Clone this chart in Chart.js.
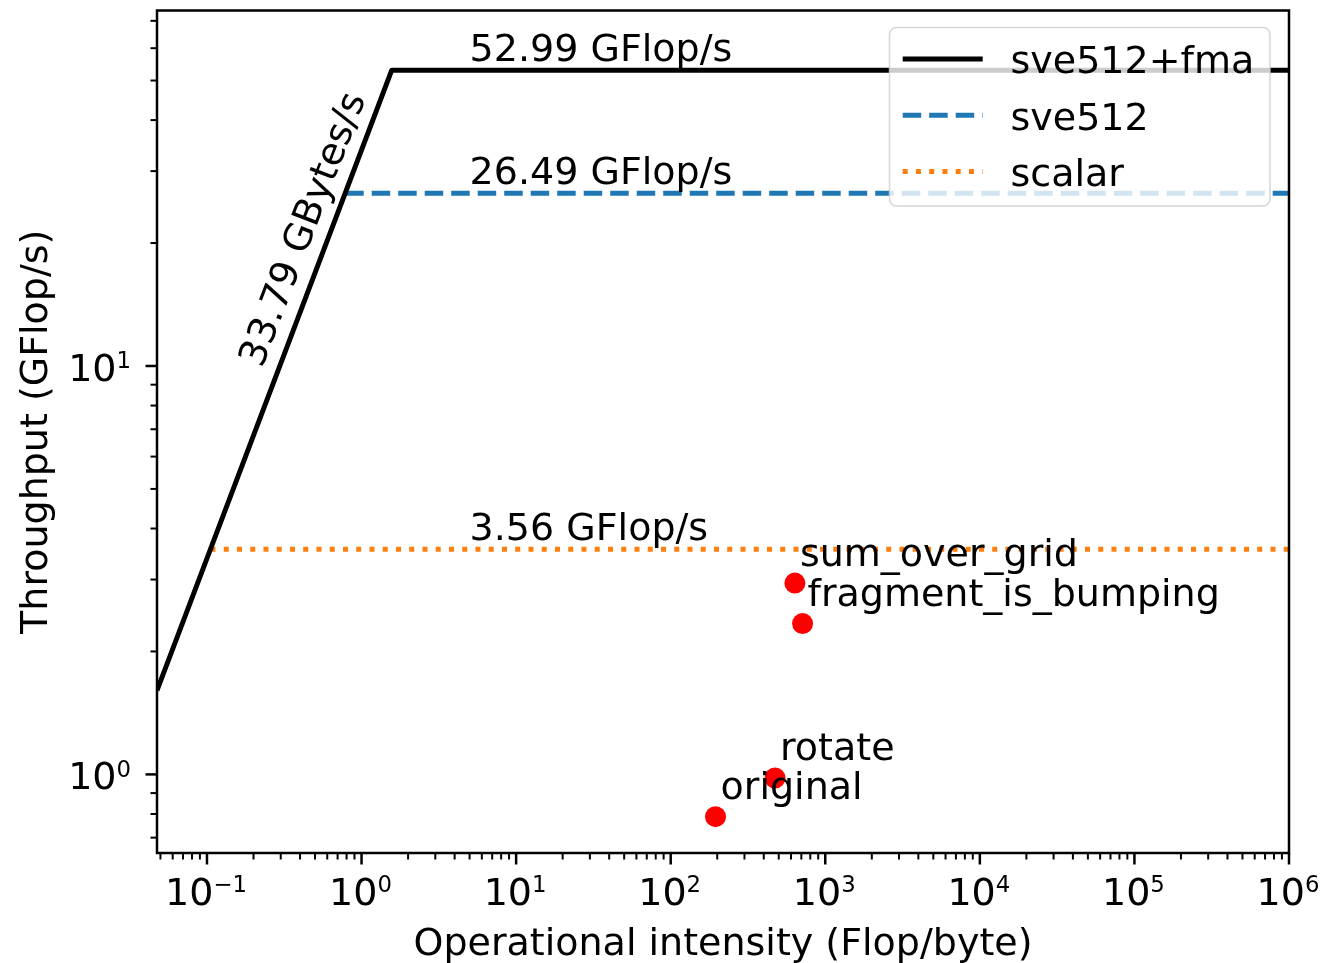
<!DOCTYPE html>
<html>
<head>
<meta charset="utf-8">
<script src="https://cdn.jsdelivr.net/npm/chart.js@4.4.0/dist/chart.umd.min.js"></script>
<style>
  html, body { margin: 0; padding: 0; background: #fff; }
  canvas { display: block; }
</style>
</head>
<body>
<canvas id="roofline" width="1327" height="963"></canvas>
<script>
// roofs
const roofNames = ['sve512+fma', 'sve512', 'scalar'];
const roofPeaks = [52.99, 26.49, 3.56];
const roofColors = ['#000000', '#1f77b4', '#ff7f0e'];
const roofDashes = [[], [18.5, 8], [5, 8.25]];
const bandwidth = 33.79;

// measured kernels
const kernelNames = ['sum_over_grid', 'fragment_is_bumping', 'rotate', 'original'];
const kernelIntensity = [636, 713, 473, 195];
const kernelThroughput = [2.94, 2.34, 0.98, 0.788];

// axes
const xMin = 0.0475, xMax = 1e6;
const yMin = 0.642, yMax = 74.2;
const xDecades = [-1, 0, 1, 2, 3, 4, 5, 6];
const yDecades = [0, 1];
const xTitle = 'Operational intensity (Flop/byte)';
const yTitle = 'Throughput (GFlop/s)';

const FAMILY = '"DejaVu Sans", sans-serif';
const FONT = '38px ' + FAMILY;
const SUP_FONT = '22.8px ' + FAMILY;

// the black roof carries the bandwidth slope, the others start at their knee
const roofDatasets = roofPeaks.map((peak, i) => {
  const knee = peak / bandwidth;
  const pts = [];
  if (i === 0) pts.push({ x: xMin, y: bandwidth * xMin });
  pts.push({ x: knee, y: peak }, { x: xMax, y: peak });
  return {
    label: roofNames[i],
    data: pts,
    showLine: true,
    borderColor: roofColors[i],
    borderWidth: 5,
    borderDash: roofDashes[i],
    borderJoinStyle: 'round',
    pointRadius: 0,
    order: 1 + i
  };
});

const kernelDataset = {
  label: 'kernels',
  data: kernelIntensity.map((x, i) => ({ x, y: kernelThroughput[i] })),
  showLine: false,
  pointRadius: 10.5,
  pointBackgroundColor: '#ff0000',
  pointBorderWidth: 0,
  order: 0
};

function supText(exp) {
  return exp < 0 ? '\u2212' + Math.abs(exp) : String(exp);
}

// "10^n" the way matplotlib sets it: base + raised smaller exponent
function drawPow(ctx, exp, x, baseline, align) {
  ctx.font = FONT;
  const wBase = ctx.measureText('10').width;
  ctx.font = SUP_FONT;
  const s = supText(exp);
  const wSup = ctx.measureText(s).width;
  const total = wBase + wSup;
  const x0 = align === 'center' ? x - total / 2 - 1 : x - total;
  ctx.textAlign = 'left';
  ctx.textBaseline = 'alphabetic';
  ctx.font = FONT;
  ctx.fillText('10', x0, baseline);
  ctx.font = SUP_FONT;
  ctx.fillText(s, x0 + wBase, baseline - 12.6);
}

const rooflineDecor = {
  id: 'rooflineDecor',
  afterDatasetsDraw(chart) {
    const ctx = chart.ctx;
    const xs = chart.scales.x, ys = chart.scales.y;
    const a = chart.chartArea;
    ctx.save();
    ctx.fillStyle = '#000';
    ctx.font = FONT;
    ctx.textAlign = 'left';
    ctx.textBaseline = 'alphabetic';

    // roof labels
    roofPeaks.forEach(p => {
      ctx.fillText(p.toFixed(2) + ' GFlop/s', xs.getPixelForValue(5), ys.getPixelForValue(p) - 9);
    });
    // kernel labels
    kernelNames.forEach((name, i) => {
      ctx.fillText(name,
        xs.getPixelForValue(kernelIntensity[i]) + 5,
        ys.getPixelForValue(kernelThroughput[i]) - 17.5);
    });
    // bandwidth label along the slope
    ctx.save();
    ctx.translate(xs.getPixelForValue(0.227), ys.getPixelForValue(9.85));
    ctx.rotate(-69 * Math.PI / 180);
    ctx.fillText(bandwidth.toFixed(2) + ' GBytes/s', 0, 0);
    ctx.restore();

    // spines
    ctx.strokeStyle = '#000';
    ctx.lineWidth = 2.5;
    ctx.strokeRect(a.left, a.top, a.right - a.left, a.bottom - a.top);

    // ticks
    for (let d = -2; d <= 6; d++) {
      for (let k = 1; k <= 9; k++) {
        const v = k * Math.pow(10, d);
        const major = k === 1;
        if (v >= xMin && v <= xMax * 1.0001) {
          const px = xs.getPixelForValue(v);
          ctx.lineWidth = major ? 2.5 : 2;
          ctx.beginPath();
          ctx.moveTo(px, a.bottom);
          ctx.lineTo(px, a.bottom + (major ? 11.5 : 6.5));
          ctx.stroke();
        }
        if (v >= yMin && v <= yMax) {
          const py = ys.getPixelForValue(v);
          ctx.lineWidth = major ? 2.5 : 2;
          ctx.beginPath();
          ctx.moveTo(a.left, py);
          ctx.lineTo(a.left - (major ? 11.5 : 6.5), py);
          ctx.stroke();
        }
      }
    }

    // tick labels
    xDecades.forEach(e => drawPow(ctx, e, xs.getPixelForValue(Math.pow(10, e)), a.bottom + 51.5, 'center'));
    yDecades.forEach(e => drawPow(ctx, e, a.left - 26, ys.getPixelForValue(Math.pow(10, e)) + 15, 'right'));

    // axis titles
    ctx.font = FONT;
    ctx.textAlign = 'center';
    ctx.textBaseline = 'alphabetic';
    ctx.fillText(xTitle, (a.left + a.right) / 2, 955);
    ctx.save();
    ctx.translate(47, (a.top + a.bottom) / 2);
    ctx.rotate(-Math.PI / 2);
    ctx.fillText(yTitle, 0, 0);
    ctx.restore();

    // legend
    const lx = 889.5, ly = 27.5, lw = 380.5, lh = 178.5, r = 7;
    ctx.beginPath();
    ctx.roundRect(lx, ly, lw, lh, r);
    ctx.fillStyle = 'rgba(255,255,255,0.8)';
    ctx.fill();
    ctx.strokeStyle = 'rgba(204,204,204,0.8)';
    ctx.lineWidth = 1.5;
    ctx.stroke();
    roofNames.forEach((name, i) => {
      const y = 59 + i * 56.2;
      ctx.strokeStyle = roofColors[i];
      ctx.lineWidth = 5;
      ctx.setLineDash(roofDashes[i]);
      ctx.beginPath();
      ctx.moveTo(902.7, y);
      ctx.lineTo(982.7, y);
      ctx.stroke();
      ctx.setLineDash([]);
      ctx.fillStyle = '#000';
      ctx.font = FONT;
      ctx.textAlign = 'left';
      ctx.fillText(name, 1010.5, y + 14.3);
    });
    ctx.restore();
  }
};

new Chart(document.getElementById('roofline'), {
  type: 'scatter',
  data: { datasets: [kernelDataset, ...roofDatasets] },
  options: {
    responsive: false,
    animation: false,
    layout: { padding: { left: 157, right: 38, top: 9.5, bottom: 110 } },
    scales: {
      x: { type: 'logarithmic', bounds: 'data', min: xMin, max: xMax, display: false },
      y: { type: 'logarithmic', bounds: 'data', min: yMin, max: yMax, display: false }
    },
    plugins: { legend: { display: false }, tooltip: { enabled: false } }
  },
  plugins: [rooflineDecor]
});
</script>
</body>
</html>
